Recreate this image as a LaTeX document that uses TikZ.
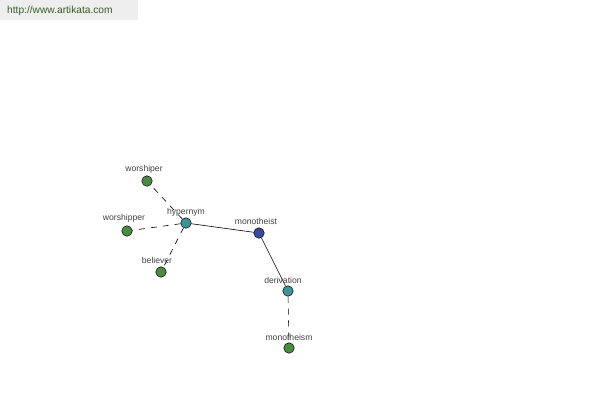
\documentclass[tikz,border=0pt]{standalone}
\usepackage{fontspec}
\setmainfont{Liberation Sans}
\definecolor{leafg}{HTML}{4A8A42}
\definecolor{midt}{HTML}{3E9494}
\definecolor{rootb}{HTML}{3A4A9A}
\definecolor{hdrbg}{HTML}{EEEEEE}
\definecolor{hdrtx}{HTML}{3A5A2A}
\begin{document}
\begin{tikzpicture}[x=1pt,y=-1pt,
  dot/.style={circle,draw=black,line width=0.5pt,minimum size=10.5pt,inner sep=0pt},
  lbl/.style={font=\fontsize{8.6}{9}\selectfont,text=black!75,inner sep=0pt},
  dashline/.style={dash pattern=on 6pt off 6pt,line width=0.6pt},
  solidl/.style={line width=0.6pt}]
\useasboundingbox (0,0) rectangle (600,400);
\fill[hdrbg] (0,0) rectangle (138,20);
\node[anchor=west,text=hdrtx,font=\fontsize{10.2}{12}\selectfont,inner sep=0pt] (url) at (7,10.5) {http://www.artikata.com};
\node[dot,fill=leafg] (w1) at (147,181) {};
\node[dot,fill=leafg] (w2) at (127,231) {};
\node[dot,fill=midt] (hy) at (186,223) {};
\node[dot,fill=leafg] (be) at (161,272) {};
\node[dot,fill=rootb] (mt) at (259,233) {};
\node[dot,fill=midt] (de) at (288,291) {};
\node[dot,fill=leafg] (mm) at (289,348) {};
\draw[dashline] (hy) -- (w1);
\draw[dashline] (hy) -- (w2);
\draw[dashline] (hy) -- (be);
\draw[solidl] (hy) -- (mt);
\draw[solidl] (mt) -- (de);
\draw[dashline] (de) -- (mm);
\node[lbl] (lw1) at (144,169) {worshiper};
\node[lbl] (lw2) at (124,218) {worshipper};
\node[lbl] (lhy) at (186,212) {hypernym};
\node[lbl] (lbe) at (157,260) {believer};
\node[lbl] (lmt) at (256,221) {monotheist};
\node[lbl] (lde) at (283,280) {derivation};
\node[lbl] (lmm) at (289,337) {monotheism};
\end{tikzpicture}
\end{document}
